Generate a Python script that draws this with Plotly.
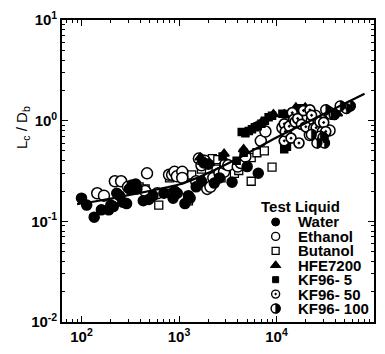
import plotly.graph_objects as go

# ---------------- data ----------------
water_x = [100, 113, 135, 160, 190, 200, 212, 230, 245, 265, 290, 310, 330, 360, 370,
           430, 490, 540, 700, 870, 900, 960, 1150, 1250, 1300, 1500, 1700, 1800, 2000,
           2300, 2600, 3500, 5000, 6500]
water_y = [0.17, 0.145, 0.11, 0.13, 0.13, 0.145, 0.14, 0.19, 0.18, 0.155, 0.15, 0.21, 0.23,
           0.235, 0.21, 0.16, 0.165, 0.18, 0.19, 0.17, 0.20, 0.19, 0.15, 0.18, 0.17, 0.22,
           0.25, 0.38, 0.37, 0.24, 0.27, 0.245, 0.35, 0.30]

ethanol_x = [145, 170, 220, 255, 300, 450, 470, 600, 790, 850, 900, 950, 1080, 1080, 1500,
             1600, 1700, 1830, 1950, 2050, 2100, 2250, 2600, 2900, 3000, 3200, 4000, 4300,
             4800, 6900, 7700, 11500, 12500, 22000, 23000, 25000, 27000, 34000, 35000]
ethanol_y = [0.19, 0.18, 0.25, 0.25, 0.22, 0.20, 0.30, 0.19, 0.29, 0.29, 0.31, 0.28, 0.31,
             0.27, 0.25, 0.42, 0.36, 0.40, 0.21, 0.27, 0.22, 0.27, 0.30, 0.31, 0.37, 0.36,
             0.35, 0.38, 0.44, 0.63, 0.78, 0.85, 0.75, 0.72, 1.00, 1.12, 0.95, 1.22, 0.80]

butanol_x = [390, 450, 620, 780, 800, 1080, 1150, 1250, 1350, 1700, 1900, 2200, 2400, 2500,
             2700, 2900, 3700, 4100, 4700, 5500, 5500, 6300, 7500, 9000]
butanol_y = [0.22, 0.21, 0.145, 0.19, 0.27, 0.29, 0.28, 0.16, 0.29, 0.33, 0.40, 0.42, 0.33,
             0.41, 0.27, 0.35, 0.30, 0.32, 0.38, 0.25, 0.43, 0.48, 0.50, 0.345]

hfe_x = [1650, 2050, 2900, 4600, 6200, 7000, 9300, 12000, 15800, 19700, 42000]
hfe_y = [0.43, 0.38, 0.47, 0.52, 0.88, 0.96, 1.16, 1.16, 1.35, 1.35, 1.18]

kf5_x = [1700, 1900, 2800, 3900, 4400, 4600, 4800, 5200, 5600, 6000, 6400, 7000, 7600, 8300,
         9000, 11500, 12000, 12700, 12800, 17500, 18500]
kf5_y = [0.40, 0.38, 0.44, 0.40, 0.77, 0.48, 0.75, 0.79, 0.82, 0.86, 0.88, 0.93, 1.00, 1.08,
         1.12, 1.17, 0.52, 1.16, 0.55, 1.33, 1.30]

kf50_x = [12000, 12000, 12300, 13500, 14100, 14500, 15000, 15500, 16500, 17000, 18000, 18900,
          20000, 22000, 22900, 24000, 25500, 27900, 29500, 30500, 32000]
kf50_y = [0.93, 0.63, 0.78, 0.88, 0.67, 1.20, 1.03, 0.97, 1.05, 0.60, 0.92, 1.26, 0.87, 1.28,
          1.13, 0.84, 0.85, 0.97, 0.78, 0.96, 0.78]

kf100_x = [22800, 26000, 28000, 30000, 31000, 32000, 36000, 39000, 45000, 52000, 57000]
kf100_y = [0.73, 0.60, 0.70, 0.68, 0.60, 1.28, 1.16, 1.15, 1.40, 1.32, 1.40]

fit_x = [90, 150, 250, 400, 600, 1000, 1500, 2500, 4000, 6000, 10000, 20000, 40000, 80000]
fit_y = [0.148, 0.160, 0.175, 0.192, 0.208, 0.232, 0.268, 0.335, 0.42, 0.52, 0.68, 0.95,
         1.33, 1.85]

x_tickvals = [1e2, 1e3, 1e4, 1e5]
x_ticktext = ["10<sup>2</sup>", "10<sup>3</sup>", "10<sup>4</sup>", "10<sup>5</sup>"]
y_tickvals = [1e-2, 1e-1, 1e0, 1e1]
y_ticktext = ["10<sup>-2</sup>", "10<sup>-1</sup>", "10<sup>0</sup>", "10<sup>1</sup>"]

legend_title = "Test Liquid"
legend_names = ["Water", "Ethanol", "Butanol", "HFE7200", "KF96- 5", "KF96- 50", "KF96- 100"]

# ---------------- styles ----------------
LW = 1.5
styles = [
    dict(symbol="circle", size=10, color="black", line=dict(color="black", width=LW)),
    dict(symbol="circle", size=11, color="white", line=dict(color="black", width=LW)),
    dict(symbol="square", size=8, color="white", line=dict(color="black", width=1.3)),
    dict(symbol="triangle-up", size=9, color="black", line=dict(color="black", width=LW)),
    dict(symbol="square", size=7, color="black", line=dict(color="black", width=LW)),
    dict(symbol="circle-dot", size=10, color="white", line=dict(color="black", width=1.7)),
    dict(symbol="circle", size=10, color="white", line=dict(color="black", width=LW)),
]
legend_styles = [
    dict(symbol="circle", size=8, color="black", line=dict(color="black", width=1)),
    dict(symbol="circle", size=8, color="white", line=dict(color="black", width=1.4)),
    dict(symbol="square", size=7, color="white", line=dict(color="black", width=1.3)),
    dict(symbol="triangle-up", size=9, color="black", line=dict(color="black", width=1)),
    dict(symbol="square", size=6, color="black", line=dict(color="black", width=1)),
    dict(symbol="circle-dot", size=8, color="white", line=dict(color="black", width=1.4)),
    dict(symbol="circle", size=9, color="white", line=dict(color="black", width=1.4)),
]
series = [(water_x, water_y), (ethanol_x, ethanol_y), (butanol_x, butanol_y),
          (hfe_x, hfe_y), (kf5_x, kf5_y), (kf50_x, kf50_y), (kf100_x, kf100_y)]
draw_order = [2, 1, 0, 3, 4, 5, 6]


def half_path(r):
    k = 0.5523 * r
    return (f"M 0,{-r} C {k:.2f},{-r} {r},{-k:.2f} {r},0 "
            f"C {r},{k:.2f} {k:.2f},{r} 0,{r} Z")


fig = go.Figure()
for i in draw_order:
    sx, sy = series[i]
    fig.add_trace(go.Scatter(x=sx, y=sy, mode="markers", name=legend_names[i],
                             marker=styles[i]))

fig.add_trace(go.Scatter(x=fit_x, y=fit_y, mode="lines", name="fit", line_shape="spline",
                         line=dict(color="black", width=2.2)))

shapes = []
# right half filled for KF96-100 points
for xv, yv in zip(kf100_x, kf100_y):
    shapes.append(dict(type="path", xref="x", yref="y", xsizemode="pixel", ysizemode="pixel",
                       xanchor=xv, yanchor=yv, path=half_path(5.3),
                       fillcolor="black", line=dict(color="black", width=0.5),
                       layer="above"))

# ---------------- legend (inside plot, lower right) ----------------
x0, x1 = 62, 376
y0, y1 = 19, 333


def px_x(p):
    return (p - x0) / (x1 - x0)


def px_y(p):
    return (y1 - p) / (y1 - y0)


sym_px = 277
txt_px = 298
row0 = 229
row_gap = 15

ann = []
ann.append(dict(x=px_x(260), y=px_y(213), xref="paper", yref="paper", text=legend_title,
                showarrow=False, xanchor="left", yanchor="middle",
                font=dict(family="Liberation Sans", size=15, color="black", weight="bold")))
for i, nm in enumerate(legend_names):
    yy = row0 + row_gap * i
    fig.add_trace(go.Scatter(x=[px_x(sym_px)], y=[px_y(yy)], xaxis="x2", yaxis="y2",
                             mode="markers", marker=legend_styles[i], name=nm,
                             hoverinfo="skip"))
    ann.append(dict(x=px_x(txt_px), y=px_y(yy), xref="paper", yref="paper", text=nm,
                    showarrow=False, xanchor="left", yanchor="middle",
                    font=dict(family="Liberation Sans", size=15, color="black", weight="bold")))
yy_half = row0 + row_gap * 6
shapes.append(dict(type="path", xref="paper", yref="paper", xsizemode="pixel",
                   ysizemode="pixel", xanchor=px_x(sym_px), yanchor=px_y(yy_half),
                   path=half_path(4.7), fillcolor="black",
                   line=dict(color="black", width=0.5), layer="above"))

# y-axis title
ann.append(dict(x=px_x(22), y=px_y(131), xref="paper", yref="paper",
                text="L<sub>c</sub> / D<sub>b</sub>", textangle=-90, showarrow=False,
                xanchor="center", yanchor="middle",
                font=dict(family="Liberation Sans", size=15, color="black")))

minor_vals = [m * 10 ** e for e in range(-3, 6) for m in range(2, 10)]

axis_common = dict(type="log", showgrid=False, zeroline=False, showline=True,
                   linecolor="black", linewidth=1.6, mirror="allticks",
                   ticks="inside", ticklen=6, tickwidth=1.3, tickcolor="black",
                   tickfont=dict(family="Liberation Sans", size=15, color="black",
                                 weight="bold"),
                   minor=dict(ticks="inside", ticklen=3, tickwidth=1, tickcolor="black",
                              tickmode="array", tickvals=minor_vals, showgrid=False))

fig.update_layout(
    width=385, height=354,
    margin=dict(l=62, r=9, t=19, b=21),
    paper_bgcolor="white", plot_bgcolor="white",
    showlegend=False,
    xaxis=dict(range=[1.8, 5], tickmode="array", tickvals=x_tickvals, ticktext=x_ticktext,
               **axis_common),
    yaxis=dict(range=[-2, 1], tickmode="array", tickvals=y_tickvals, ticktext=y_ticktext,
               **axis_common),
    xaxis2=dict(overlaying="x", anchor="y2", range=[0, 1], visible=False, fixedrange=True),
    yaxis2=dict(overlaying="y", anchor="x2", range=[0, 1], visible=False, fixedrange=True),
    annotations=ann,
    shapes=shapes,
)

fig.write_html("out.html")
